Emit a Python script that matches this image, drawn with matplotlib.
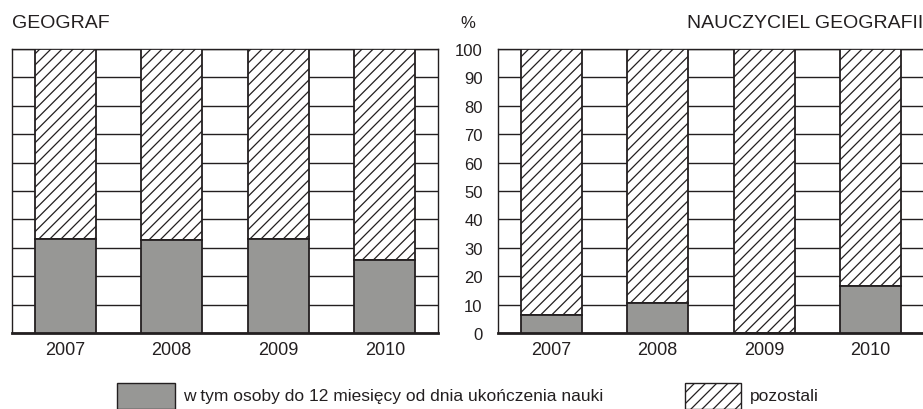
import numpy as np
import matplotlib.pyplot as plt
from matplotlib.patches import Rectangle

plt.rcParams['font.family'] = ['Liberation Sans', 'DejaVu Sans']
plt.rcParams['hatch.linewidth'] = 0.9
plt.rcParams['hatch.color'] = '#231f20'

lata = ['2007', '2008', '2009', '2010']
# udzial osob do 12 miesiecy od ukonczenia nauki (%)
geograf = [33.1, 32.7, 33.1, 25.8]
nauczyciel = [6.5, 10.6, 0.0, 16.7]

szary = '#979795'
ciemny = '#231f20'
kreski = '///'

fig = plt.figure(figsize=(9.23, 4.10), dpi=100)
ax1 = fig.add_axes([12 / 923, 0.1854, 426 / 923, 0.6927])
ax2 = fig.add_axes([498 / 923, 0.1854, 426 / 923, 0.6927])


def rysuj(ax, wartosci, etykiety_y):
    x = np.arange(len(lata))
    w = np.array(wartosci)
    ax.bar(x, 100 - w, bottom=w, width=0.573, color='white', hatch=kreski,
           edgecolor=ciemny, linewidth=1.3, zorder=3)
    ax.bar(x, w, width=0.573, color=szary, edgecolor=ciemny,
           linewidth=1.3, zorder=3)
    ax.set_xlim(-0.5, 3.5)
    ax.set_ylim(0, 100)
    ax.set_xticks(x)
    ax.set_xticklabels(lata, fontsize=13, color=ciemny)
    ax.set_yticks(np.arange(0, 101, 10))
    ax.yaxis.grid(True, color=ciemny, linewidth=1.0, zorder=0)
    ax.set_axisbelow(True)
    ax.tick_params(axis='x', length=0, pad=6)
    ax.tick_params(axis='y', length=0, pad=11, labelsize=12,
                   labelcolor=ciemny)
    if not etykiety_y:
        ax.set_yticklabels([])
    for s in ['left', 'right', 'top']:
        ax.spines[s].set_color(ciemny)
        ax.spines[s].set_linewidth(1.0)
    ax.spines['bottom'].set_color(ciemny)
    ax.spines['bottom'].set_linewidth(2.0)


rysuj(ax1, geograf, False)
rysuj(ax2, nauczyciel, True)

fig.text(12 / 923, 1 - 24 / 410, 'GEOGRAF', fontsize=14, va='center',
         ha='left', color=ciemny)
fig.text(923 / 923, 1 - 24 / 410, 'NAUCZYCIEL GEOGRAFII', fontsize=14,
         va='center', ha='right', color=ciemny)
fig.text(468 / 923, 1 - 24 / 410, '%', fontsize=12, va='center',
         ha='center', color=ciemny)

# legenda
fig.patches.append(Rectangle((117 / 923, 0), 58 / 923, 26 / 410,
                             transform=fig.transFigure, facecolor=szary,
                             edgecolor=ciemny, linewidth=1.0))
fig.text(183 / 923, 1 - 397 / 410,
         'w tym osoby do 12 miesięcy od dnia ukończenia nauki',
         fontsize=12.5, va='center', ha='left', color=ciemny)
fig.patches.append(Rectangle((685 / 923, 0), 56 / 923, 26 / 410,
                             transform=fig.transFigure, facecolor='white',
                             hatch=kreski, edgecolor=ciemny, linewidth=1.0))
fig.text(750 / 923, 1 - 397 / 410, 'pozostali', fontsize=12.5, va='center',
         ha='left', color=ciemny)

fig.savefig('out.png', dpi=100)
